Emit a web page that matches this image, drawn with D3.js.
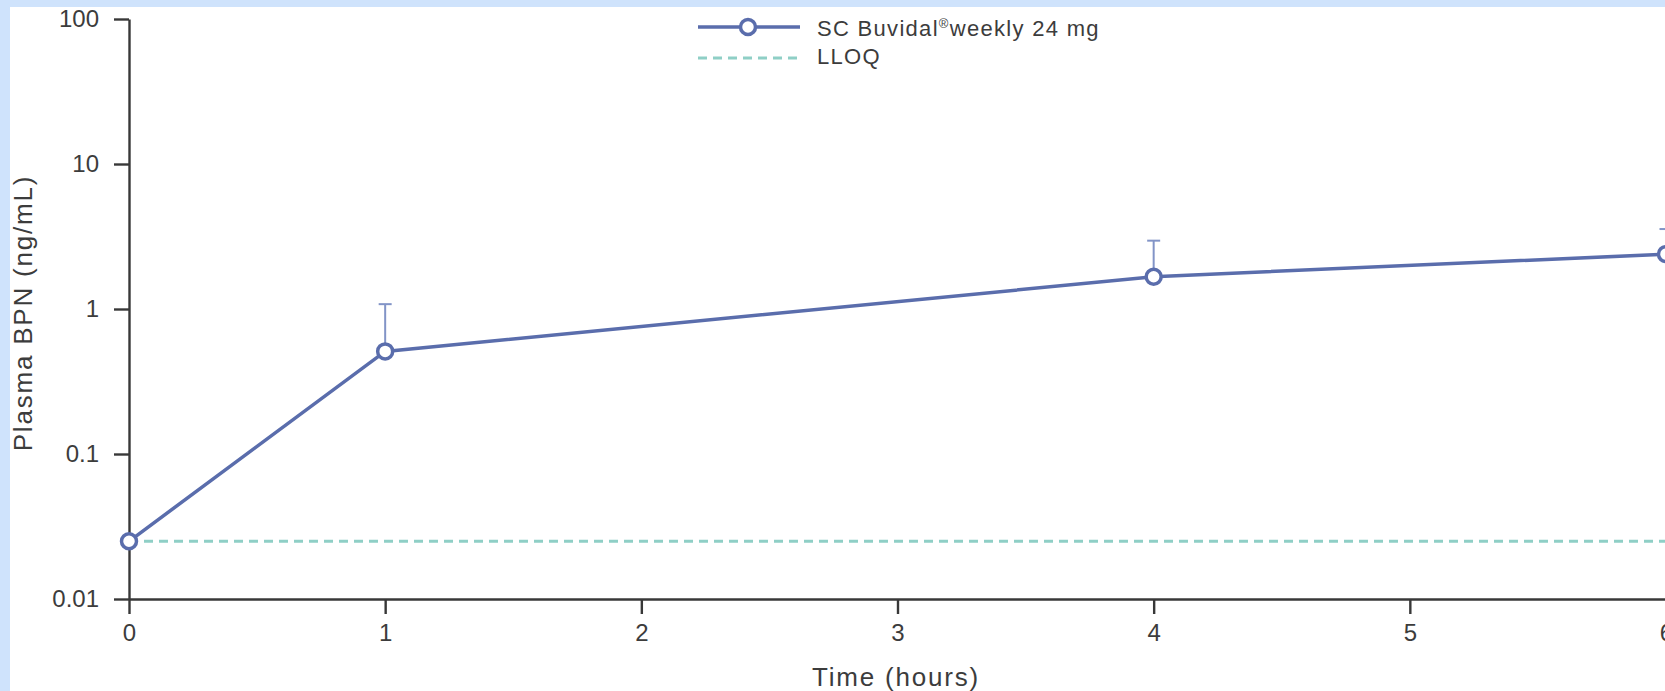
<!DOCTYPE html>
<html>
<head>
<meta charset="utf-8">
<script src="https://cdn.jsdelivr.net/npm/d3@7"></script>
<style>
  body { margin: 0; background: #cfe3fc; }
  svg { display: block; font-family: "Liberation Sans", Arial, sans-serif; }
</style>
</head>
<body>
<div id="chart"></div>
<script>
// data
var times = [0, 1, 4, 6];
var meanBPN = [0.025, 0.51, 1.67, 2.39];
var upperBPN = [null, 1.08, 2.96, 3.56];
var lloq = 0.025;
var yTicks = [0.01, 0.1, 1, 10, 100];
var yTickLabels = ["0.01", "0.1", "1", "10", "100"];
var xTicks = [0, 1, 2, 3, 4, 5, 6];

var width = 1665, height = 691;
var lineColor = "#5a6dac";
var errColor = "#8294c7";
var lloqColor = "#8fcfc6";
var axisColor = "#383838";
var textColor = "#3c3c3c";

var svg = d3.select("#chart")
    .append("svg")
    .attr("width", width)
    .attr("height", height);

// white panel inside the blue frame
svg.append("rect")
    .attr("x", 10).attr("y", 7)
    .attr("width", width - 10).attr("height", height - 7)
    .attr("fill", "#fff");

var x = d3.scaleLinear().domain([0, 6]).range([129, 1666]);
var y = d3.scaleLog().domain([0.01, 100]).range([599, 19]);

var xAxis = svg.append("g")
    .attr("transform", "translate(0," + y(0.01) + ")")
    .call(d3.axisBottom(x).tickValues(xTicks).tickFormat(d3.format("d"))
        .tickSize(15).tickSizeOuter(0).tickPadding(10));

var yAxis = svg.append("g")
    .attr("transform", "translate(" + x(0) + ",0)")
    .call(d3.axisLeft(y).tickValues(yTicks)
        .tickFormat(function (d, i) { return yTickLabels[i]; })
        .tickSize(15).tickSizeOuter(0).tickPadding(15));

[xAxis, yAxis].forEach(function (a) {
    a.select(".domain").attr("stroke", axisColor).attr("stroke-width", 2.4);
    a.selectAll(".tick line").attr("stroke", axisColor).attr("stroke-width", 2.4);
    a.selectAll(".tick text")
        .attr("fill", textColor)
        .style("font-size", "24px")
        .style("font-family", "'Liberation Sans', Arial, sans-serif");
});

// axis titles
svg.append("text")
    .attr("x", 896).attr("y", 686)
    .attr("text-anchor", "middle")
    .attr("fill", textColor)
    .style("font-size", "26px")
    .style("letter-spacing", "1.8px")
    .text("Time (hours)");

svg.append("text")
    .attr("transform", "translate(32,313) rotate(-90)")
    .attr("text-anchor", "middle")
    .attr("fill", textColor)
    .style("font-size", "26px")
    .style("letter-spacing", "1.8px")
    .text("Plasma BPN (ng/mL)");

// LLOQ
svg.append("line")
    .attr("x1", x(0)).attr("x2", width)
    .attr("y1", y(lloq)).attr("y2", y(lloq))
    .attr("stroke", lloqColor)
    .attr("stroke-width", 3)
    .attr("stroke-dasharray", "9,6");

var points = times.map(function (t, i) {
    return { t: t, v: meanBPN[i], up: upperBPN[i] };
});

// error bars (upper only)
var eb = svg.selectAll(".err")
    .data(points.filter(function (d) { return d.up != null; }))
    .enter().append("g").attr("class", "err");

eb.append("line")
    .attr("x1", function (d) { return x(d.t); })
    .attr("x2", function (d) { return x(d.t); })
    .attr("y1", function (d) { return y(d.v); })
    .attr("y2", function (d) { return y(d.up); })
    .attr("stroke", errColor).attr("stroke-width", 2);

eb.append("line")
    .attr("x1", function (d) { return x(d.t) - 6.5; })
    .attr("x2", function (d) { return x(d.t) + 6.5; })
    .attr("y1", function (d) { return y(d.up); })
    .attr("y2", function (d) { return y(d.up); })
    .attr("stroke", errColor).attr("stroke-width", 2);

var line = d3.line()
    .x(function (d) { return x(d.t); })
    .y(function (d) { return y(d.v); });

svg.append("path")
    .datum(points)
    .attr("d", line)
    .attr("fill", "none")
    .attr("stroke", lineColor)
    .attr("stroke-width", 3.5);

svg.selectAll(".pt")
    .data(points)
    .enter().append("circle")
    .attr("class", "pt")
    .attr("cx", function (d) { return x(d.t); })
    .attr("cy", function (d) { return y(d.v); })
    .attr("r", 7.5)
    .attr("fill", "#fff")
    .attr("stroke", lineColor)
    .attr("stroke-width", 3.5);

// legend
var lg = svg.append("g");
lg.append("line")
    .attr("x1", 698).attr("x2", 800).attr("y1", 27).attr("y2", 27)
    .attr("stroke", lineColor).attr("stroke-width", 3.5);
lg.append("circle")
    .attr("cx", 748).attr("cy", 27).attr("r", 7.5)
    .attr("fill", "#fff").attr("stroke", lineColor).attr("stroke-width", 3.5);
lg.append("line")
    .attr("x1", 698).attr("x2", 800).attr("y1", 58).attr("y2", 58)
    .attr("stroke", lloqColor).attr("stroke-width", 3)
    .attr("stroke-dasharray", "9,6");

var t1 = lg.append("text")
    .attr("x", 817).attr("y", 36)
    .attr("fill", textColor)
    .style("font-size", "22px")
    .style("letter-spacing", "1.3px");
t1.append("tspan").text("SC Buvidal");
t1.append("tspan").attr("dy", -8).style("font-size", "13px").text("®");
t1.append("tspan").attr("dy", 8).text("weekly 24 mg");

lg.append("text")
    .attr("x", 817).attr("y", 64)
    .attr("fill", textColor)
    .style("font-size", "22px")
    .style("letter-spacing", "1.3px")
    .text("LLOQ");
</script>
</body>
</html>
